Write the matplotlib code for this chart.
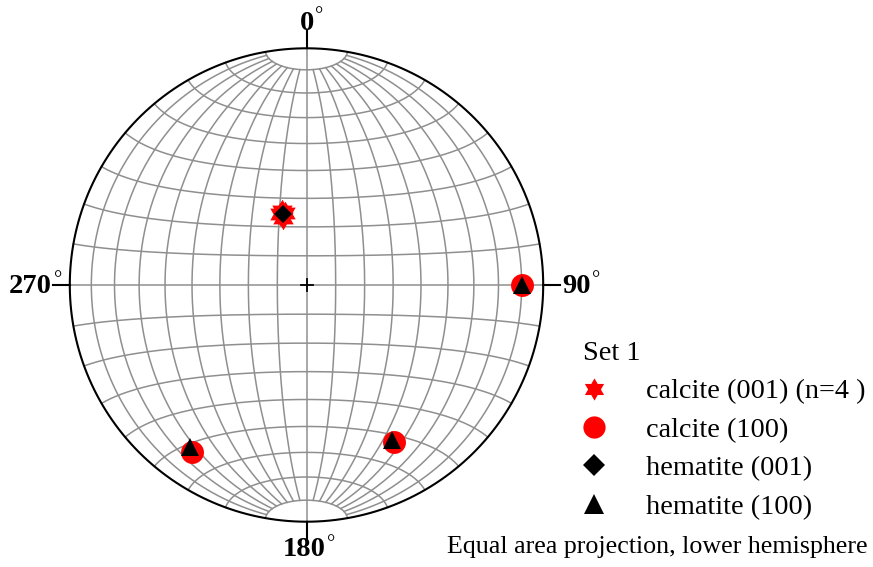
import numpy as np
import matplotlib
matplotlib.use("Agg")
import matplotlib.pyplot as plt
from matplotlib.path import Path

plt.rcParams['font.family'] = ['Liberation Serif', 'DejaVu Serif']

# Poles as trend / plunge (degrees), lower hemisphere
calcite_001_trend = [342, 339.5, 341, 343.5]
calcite_001_plunge = [63, 64, 65.5, 64]
calcite_100_trend = [90, 214.6, 150.8]
calcite_100_plunge = [10, 15.6, 25.2]
hematite_001_trend = [341.4]
hematite_001_plunge = [64.2]
hematite_100_trend = [90, 215.8, 151.0]
hematite_100_plunge = [10, 16.9, 26.1]

labels = ["calcite (001) (n=4 )", "calcite (100)", "hematite (001)", "hematite (100)"]
compass = ["0", "90", "180", "270"]


def schmidt(lon, lat):
    """Equal-area (Schmidt) net coordinates for lon/lat about the N-S axis."""
    lon = np.radians(lon)
    lat = np.radians(lat)
    x = np.cos(lat) * np.sin(lon)
    y = np.sin(lat)
    z = np.clip(np.cos(lat) * np.cos(lon), -1, 1)
    c = np.arccos(z)
    r = np.sqrt(2) * np.sin(c / 2)
    rho = np.hypot(x, y)
    rho = np.where(rho == 0, 1, rho)
    return r * x / rho, r * y / rho


def pole(trend, plunge):
    t = np.radians(np.asarray(trend, float))
    r = np.sqrt(2) * np.sin(np.radians(90 - np.asarray(plunge, float)) / 2)
    return r * np.sin(t), r * np.cos(t)


W, H = 873, 567
cx, cy, R = 306.5, 285.0, 236.7   # net centre and radius in pixels

fig = plt.figure(figsize=(W / 100, H / 100), dpi=100)
ax = fig.add_axes([0, 0, 1, 1])
ax.set_xlim(-cx / R, (W - cx) / R)
ax.set_ylim(-(H - cy) / R, cy / R)
ax.axis('off')

grid_kw = dict(color='#8f8f8f', lw=1.1, zorder=1)

# great circles (meridians), stopping at the 80 deg small circle
lat_span = np.linspace(-80, 80, 200)
for lon in range(-80, 90, 10):
    if lon == 0:
        continue
    gx, gy = schmidt(np.full_like(lat_span, lon), lat_span)
    ax.plot(gx, gy, **grid_kw)

# small circles
lon_span = np.linspace(-90, 90, 300)
for lat in range(-80, 90, 10):
    if lat == 0:
        continue
    gx, gy = schmidt(lon_span, np.full_like(lon_span, lat))
    ax.plot(gx, gy, **grid_kw)

# N-S and E-W diameters
ax.plot([0, 0], [-1, 1], **grid_kw)
ax.plot([-1, 1], [0, 0], **grid_kw)

# primitive circle
th = np.linspace(0, 2 * np.pi, 500)
ax.plot(np.cos(th), np.sin(th), color='black', lw=1.5, zorder=3)

# compass ticks and centre cross
tk = 17 / R
ax.plot([0, 0], [1, 1 + tk], color='black', lw=1.5, zorder=3)
ax.plot([0, 0], [-1, -1 - tk], color='black', lw=1.5, zorder=3)
ax.plot([-1, -1 - tk], [0, 0], color='black', lw=1.5, zorder=3)
ax.plot([1, 1 + tk], [0, 0], color='black', lw=1.5, zorder=3)
cr = 6 / R
ax.plot([-cr, cr], [0, 0], color='black', lw=1.3, zorder=3)
ax.plot([0, 0], [-cr, cr], color='black', lw=1.3, zorder=3)

# compass labels
lab_kw = dict(fontsize=20.5, fontweight='bold', zorder=4)
deg_kw = dict(fontsize=15, va='top', ha='left', zorder=4)
ax.text(0, 1.077, compass[0], ha='center', va='baseline', **lab_kw)
ax.text(0.034, 1.172, "°", **deg_kw)
ax.text(1.079, -0.0325, compass[1], ha='left', va='baseline', **lab_kw)
ax.text(1.208, 0.06, "°", **deg_kw)
ax.text(-0.01, -1.145, compass[2], ha='center', va='baseline', **lab_kw)
ax.text(0.088, -1.055, "°", **deg_kw)
ax.text(-1.075, -0.0325, compass[3], ha='right', va='baseline', **lab_kw)
ax.text(-1.068, 0.06, "°", **deg_kw)

# data
hexagram = Path.unit_regular_star(6, 0.577)
x, y = pole(calcite_001_trend, calcite_001_plunge)
ax.plot(x, y, ls='none', marker=hexagram, ms=17, color='red', mew=0,
        label=labels[0], zorder=5)
x, y = pole(calcite_100_trend, calcite_100_plunge)
ax.plot(x, y, ls='none', marker='o', ms=16.5, color='red', mew=0,
        label=labels[1], zorder=5)
x, y = pole(hematite_001_trend, hematite_001_plunge)
ax.plot(x, y, ls='none', marker='D', ms=9.5, color='black', mew=0,
        label=labels[2], zorder=6)
x, y = pole(hematite_100_trend, hematite_100_plunge)
ax.plot(x, y, ls='none', marker='^', ms=13, color='black', mew=0,
        label=labels[3], zorder=6)

leg = ax.legend(loc='upper left', bbox_to_anchor=(583 / W, 1 - 341 / H),
                bbox_transform=fig.transFigure, frameon=False, title="Set 1",
                alignment='left', fontsize=20.3, title_fontsize=20.3,
                numpoints=1, handlelength=0.8, handletextpad=1.42,
                labelspacing=0.45, borderpad=0, borderaxespad=0)
# legend symbols are drawn a little larger than the plotted ones
for h, ms in zip(leg.legend_handles, [16, 16, 11.5, 15]):
    h.set_markersize(ms)

ax.text((868 - cx) / R, (cy - 547) / R, "Equal area projection, lower hemisphere",
        fontsize=18.7, ha='right', va='center')

fig.savefig("out.png", dpi=100)
